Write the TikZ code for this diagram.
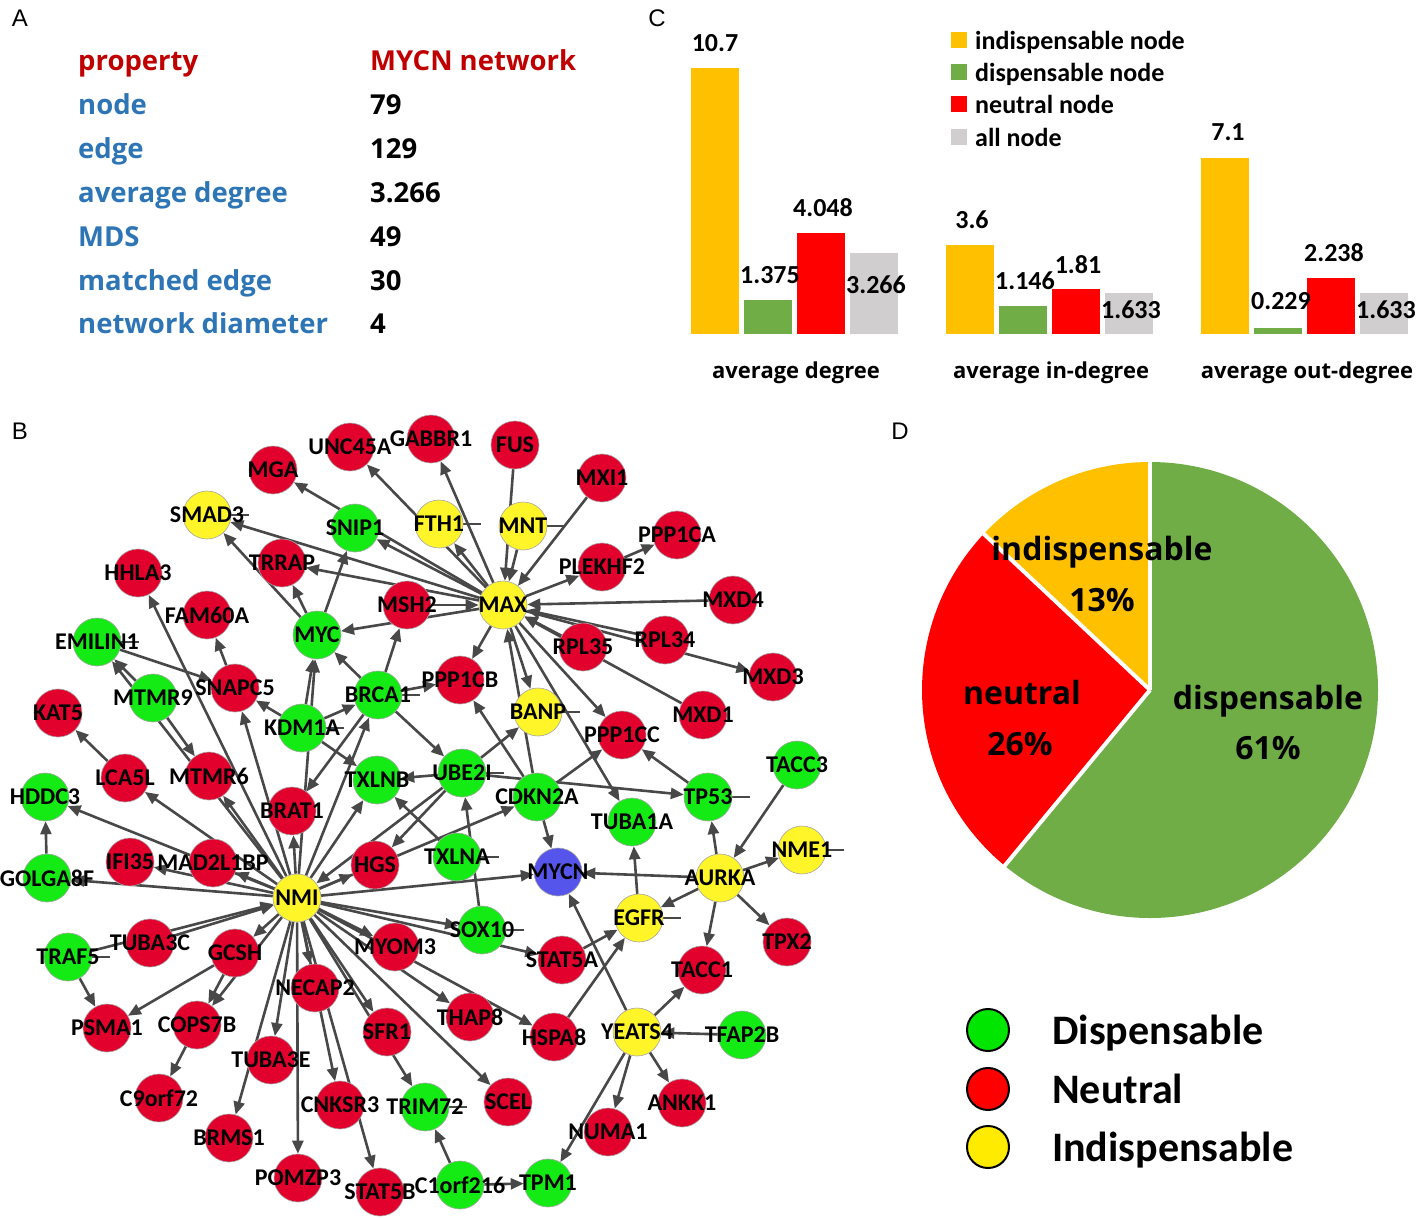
\documentclass[tikz,border=0pt]{standalone}
\usepackage{fontspec}
\setmainfont{Carlito}
\newfontfamily\osans{Open Sans}
\newfontfamily\lsans{Liberation Sans}
\usetikzlibrary{arrows.meta,backgrounds}
\definecolor{nr}{RGB}{226,0,44}
\definecolor{ng}{RGB}{20,235,20}
\definecolor{ny}{RGB}{255,245,40}
\definecolor{nb}{RGB}{85,85,235}
\definecolor{edgec}{RGB}{72,72,72}
\definecolor{cyel}{RGB}{255,192,0}
\definecolor{cgrn}{RGB}{112,173,71}
\definecolor{cred}{RGB}{255,0,0}
\definecolor{cgry}{RGB}{208,206,206}
\definecolor{ared}{RGB}{192,0,0}
\definecolor{ablu}{RGB}{46,117,182}
\definecolor{lgrn}{RGB}{0,230,0}
\definecolor{lyel}{RGB}{255,235,0}
\pgfdeclarelayer{bgfill}
\pgfdeclarelayer{fg}
\pgfsetlayers{bgfill,background,main,fg}
\begin{document}
\begin{tikzpicture}[x=1pt,y=-1pt,
  gnode/.style={circle,minimum size=48pt,inner sep=0pt,draw=black!35,line width=0.6pt},
  glab/.style={font=\bfseries\fontsize{24}{24}\selectfont,inner sep=0pt},
  edge/.style={draw=edgec,line width=2.6pt,-{Triangle[length=13pt,width=11pt]}},
  tail/.style={draw=edgec,line width=2.6pt},
  panel/.style={font=\lsans\fontsize{24}{24}\selectfont,anchor=base,inner sep=0pt},
  atxt/.style={font=\osans\bfseries\fontsize{27.5}{27.5}\selectfont,anchor=base west,inner sep=0pt},
  barval/.style={font=\bfseries\fontsize{26}{26}\selectfont,inner sep=0pt},
  legtxt/.style={font=\bfseries\fontsize{26}{26}\selectfont,anchor=base west,inner sep=0pt},
  axtxt/.style={font=\osans\bfseries\fontsize{22}{22}\selectfont,anchor=base,inner sep=0pt},
  pietxt/.style={font=\osans\bfseries\fontsize{32}{32}\selectfont,anchor=base,inner sep=0pt},
  dleg/.style={circle,minimum size=42pt,inner sep=0pt,draw=black,line width=2pt},
  dlegtxt/.style={font=\bfseries\fontsize{42}{42}\selectfont,anchor=base west,inner sep=0pt},
  slice/.style={draw=white,line width=4pt,line join=round}
]
\useasboundingbox (0,0) rectangle (1418,1218);
\begin{pgfonlayer}{bgfill}
\fill[white] (0,0) rectangle (1418,1218);
\end{pgfonlayer}

% ---------- panel letters
\node[panel] (pA) at (20,26) {A};
\node[panel] (pB) at (20,439) {B};
\node[panel] (pC) at (657,26) {C};
\node[panel] (pD) at (900,439) {D};

% ---------- panel A
\node[atxt,text=ared] (a0l) at (78,70) {property};
\node[atxt,text=ared] (a0r) at (370,70) {MYCN network};
\node[atxt,text=ablu] (a1l) at (78,114) {node};
\node[atxt] (a1r) at (370,114) {79};
\node[atxt,text=ablu] (a2l) at (78,158) {edge};
\node[atxt] (a2r) at (370,158) {129};
\node[atxt,text=ablu] (a3l) at (78,202) {average degree};
\node[atxt] (a3r) at (370,202) {3.266};
\node[atxt,text=ablu] (a4l) at (78,246) {MDS};
\node[atxt] (a4r) at (370,246) {49};
\node[atxt,text=ablu] (a5l) at (78,290) {matched edge};
\node[atxt] (a5r) at (370,290) {30};
\node[atxt,text=ablu] (a6l) at (78,333) {network diameter};
\node[atxt] (a6r) at (370,333) {4};

% ---------- panel C bars
\fill[cyel] (691,334) rectangle (739,68);
\fill[cgrn] (744,334) rectangle (792,299.8);
\fill[cred] (797,334) rectangle (845,233.4);
\fill[cgry] (850,334) rectangle (898,252.8);
\fill[cyel] (946,334) rectangle (994,244.5);
\fill[cgrn] (999,334) rectangle (1047,305.5);
\fill[cred] (1052,334) rectangle (1100,289);
\fill[cgry] (1105,334) rectangle (1153,293.4);
\fill[cyel] (1201,334) rectangle (1249,157.5);
\fill[cgrn] (1254,334) rectangle (1302,328.3);
\fill[cred] (1307,334) rectangle (1355,278.4);
\fill[cgry] (1360,334) rectangle (1408,293.4);
\node[barval] (v1) at (715,43) {10.7};
\node[barval] (v2) at (770,275) {1.375};
\node[barval] (v3) at (823,208) {4.048};
\node[barval] (v4) at (876,285) {3.266};
\node[barval] (v5) at (972,220) {3.6};
\node[barval] (v6) at (1025,281) {1.146};
\node[barval] (v7) at (1078,265) {1.81};
\node[barval] (v8) at (1131,310) {1.633};
\node[barval] (v9) at (1228,132) {7.1};
\node[barval] (v10) at (1281,301) {0.229};
\node[barval] (v11) at (1334,253) {2.238};
\node[barval] (v12) at (1386,310) {1.633};
\fill[cyel] (951,32) rectangle (967,48);
\fill[cgrn] (951,64) rectangle (967,80);
\fill[cred] (951,96) rectangle (967,112);
\fill[cgry] (951,129) rectangle (967,145);
\node[legtxt] (l1) at (975,49) {indispensable node};
\node[legtxt] (l2) at (975,81) {dispensable node};
\node[legtxt] (l3) at (975,113) {neutral node};
\node[legtxt] (l4) at (975,146) {all node};
\node[axtxt] (x1) at (796,378) {average degree};
\node[axtxt] (x2) at (1051,378) {average in-degree};
\node[axtxt] (x3) at (1307,378) {average out-degree};

% ---------- panel D pie
\fill[cgrn] (1150,690) -- ++(-90:228) arc[start angle=-90,end angle=129.6,radius=228] -- cycle;
\fill[cred] (1150,690) -- ++(129.6:228) arc[start angle=129.6,end angle=223.2,radius=228] -- cycle;
\fill[cyel] (1150,690) -- ++(223.2:228) arc[start angle=223.2,end angle=270,radius=228] -- cycle;
\draw[slice] (1150,690) -- ++(-90:230);
\draw[slice] (1150,690) -- ++(129.6:230);
\draw[slice] (1150,690) -- ++(223.2:230);
\node[pietxt] (d1) at (1102,560) {indispensable};
\node[pietxt] (d2) at (1102,611) {13\%};
\node[pietxt] (d3) at (1022,704) {neutral};
\node[pietxt] (d4) at (1020,755) {26\%};
\node[pietxt] (d5) at (1268,709) {dispensable};
\node[pietxt] (d6) at (1268,759) {61\%};
\node[dleg,fill=lgrn] (g1) at (988,1030) {};
\node[dleg,fill=cred] (g2) at (988,1089) {};
\node[dleg,fill=lyel] (g3) at (988,1147) {};
\node[dlegtxt] (t1) at (1052,1044) {Dispensable};
\node[dlegtxt] (t2) at (1052,1103) {Neutral};
\node[dlegtxt] (t3) at (1052,1161) {Indispensable};

% ---------- panel B network nodes
\foreach \n/\x/\y/\c in {
MGA/273/470/nr, UNC45A/350/447/nr, GABBR1/431/439/nr, FUS/515/445/nr, MXI1/602/478/nr,
PPP1CA/677/535/nr, PLEKHF2/602/567/nr, MXD4/733/600/nr, RPL34/665/640/nr, RPL35/583/647/nr,
MXD3/773/677/nr, MXD1/703/715/nr, PPP1CC/622/735/nr, TRRAP/282/563/nr, HHLA3/138/573/nr,
FAM60A/207/615/nr, MSH2/407/605/nr, SNAPC5/235/688/nr, PPP1CB/460/680/nr, KAT5/58/713/nr,
LCA5L/125/778/nr, MTMR6/209/776/nr, BRAT1/292/811/nr, IFI35/130/862/nr, MAD2L1BP/213/863/nr,
HGS/375/865/nr, TUBA3C/150/943/nr, GCSH/235/953/nr, PSMA1/107/1028/nr, COPS7B/197/1025/nr,
C9orf72/159/1098/nr, TUBA3E/271/1060/nr, BRMS1/229/1138/nr, POMZP3/298/1178/nr, NECAP2/315/988/nr,
MYOM3/395/947/nr, SFR1/387/1032/nr, THAP8/470/1017/nr, HSPA8/554/1037/nr, STAT5A/562/960/nr,
CNKSR3/340/1105/nr, SCEL/508/1102/nr, STAT5B/380/1192/nr, NUMA1/608/1132/nr, TACC1/702/970/nr,
TPX2/787/942/nr, ANKK1/682/1103/nr,
SNIP1/355/528/ng, MYC/317/635/ng, EMILIN1/97/642/ng, MTMR9/153/698/ng, KDM1A/302/728/ng,
BRCA1/378/695/ng, TXLNB/377/780/ng, UBE2I/462/773/ng, CDKN2A/537/797/ng, TXLNA/457/857/ng,
SOX10/482/930/ng, HDDC3/45/797/ng, GOLGA8F/47/878/ng, TRAF5/68/957/ng, TRIM72/425/1107/ng,
C1orf216/460/1185/ng, TPM1/548/1183/ng, TUBA1A/632/822/ng, TP53/708/797/ng, TACC3/797/765/ng,
TFAP2B/742/1035/ng,
SMAD3/207/515/ny, FTH1/439/524/ny, MNT/523/526/ny, MAX/503/605/ny, BANP/538/712/ny,
NMI/297/898/ny, AURKA/720/878/ny, NME1/802/850/ny, EGFR/639/918/ny, YEATS4/637/1032/ny,
MYCN/558/872/nb}
  {\node[gnode,fill=\c] (\n) at (\x,\y) {};}

% ---------- edges
\begin{pgfonlayer}{background}
\foreach \a/\b in {
MAX/SMAD3, MYC/SMAD3, MAX/MGA, MAX/TRRAP, MYC/TRRAP, MYC/SNIP1, MAX/SNIP1, MAX/UNC45A,
MAX/GABBR1, MAX/FTH1, FUS/MAX, MNT/MAX, MXI1/MAX, MAX/PLEKHF2, PLEKHF2/PPP1CA, MXD4/MAX,
RPL34/MAX, MAX/MXD3, MXD1/MAX, RPL35/MAX, MSH2/MAX, MAX/MYC, MAX/PPP1CB, MAX/BANP,
MAX/PPP1CC, MAX/TUBA1A, CDKN2A/MAX, BRCA1/MSH2, KDM1A/BRCA1, BRCA1/PPP1CB, BRCA1/UBE2I,
BRCA1/MYC, BRCA1/BRAT1, NMI/BRCA1, NMI/MYC, KDM1A/MYC, KDM1A/SNAPC5, KDM1A/TXLNB,
SNAPC5/FAM60A, NMI/SNAPC5, EMILIN1/SNAPC5, NMI/HHLA3, NMI/EMILIN1, MTMR9/EMILIN1,
MTMR9/MTMR6, NMI/MTMR6, LCA5L/KAT5, NMI/LCA5L, NMI/HDDC3, GOLGA8F/HDDC3, NMI/GOLGA8F,
NMI/IFI35, NMI/MAD2L1BP, TRAF5/NMI, TUBA3C/NMI, TRAF5/PSMA1, GCSH/PSMA1, GCSH/COPS7B,
NMI/COPS7B, NMI/GCSH, COPS7B/C9orf72, NMI/TUBA3E, NMI/BRMS1, NMI/POMZP3, NMI/NECAP2,
NMI/CNKSR3, NMI/STAT5B, NMI/SFR1, NMI/TRIM72, C1orf216/TRIM72, NMI/SCEL, NMI/MYOM3,
NMI/THAP8, NMI/HSPA8, HSPA8/EGFR, STAT5A/EGFR, NMI/STAT5A, NMI/SOX10, SOX10/UBE2I,
TXLNA/TXLNB, UBE2I/TXLNB, UBE2I/HGS, UBE2I/NMI, NMI/TXLNB, NMI/CDKN2A, NMI/MYCN, NMI/HGS,
NMI/BRAT1, UBE2I/BANP, CDKN2A/PPP1CB, CDKN2A/PPP1CC, CDKN2A/MYCN, UBE2I/TP53, AURKA/MYCN,
AURKA/TP53, TACC3/AURKA, AURKA/NME1, AURKA/EGFR, AURKA/TACC1, AURKA/TPX2, EGFR/TUBA1A,
TP53/PPP1CC, YEATS4/MYCN, YEATS4/TACC1, TFAP2B/YEATS4, YEATS4/ANKK1, YEATS4/NUMA1,
YEATS4/TPM1, C1orf216/TPM1}
  {\draw[edge] (\a) -- (\b);}
\foreach \n in {SMAD3,FTH1,MNT,EMILIN1,KDM1A,BRCA1,UBE2I,TXLNA,SOX10,BANP,TP53,NME1,EGFR,TRIM72,TRAF5}
  {\draw[tail] (\n.east) -- ++(18,0);}
\end{pgfonlayer}

% ---------- labels
\begin{pgfonlayer}{fg}
\foreach \n in {MGA,UNC45A,GABBR1,FUS,MXI1,PPP1CA,PLEKHF2,MXD4,RPL34,RPL35,MXD3,MXD1,PPP1CC,
TRRAP,HHLA3,FAM60A,MSH2,SNAPC5,PPP1CB,KAT5,LCA5L,MTMR6,BRAT1,IFI35,MAD2L1BP,HGS,TUBA3C,GCSH,
PSMA1,COPS7B,C9orf72,TUBA3E,BRMS1,POMZP3,NECAP2,MYOM3,SFR1,THAP8,HSPA8,STAT5A,CNKSR3,SCEL,
STAT5B,NUMA1,TACC1,TPX2,ANKK1,SNIP1,MYC,EMILIN1,MTMR9,KDM1A,BRCA1,TXLNB,UBE2I,CDKN2A,TXLNA,
SOX10,HDDC3,GOLGA8F,TRAF5,TRIM72,C1orf216,TPM1,TUBA1A,TP53,TACC3,TFAP2B,SMAD3,FTH1,MNT,MAX,
BANP,NMI,AURKA,NME1,EGFR,YEATS4,MYCN}
  {\node[glab] (\n-l) at (\n) {\n};}
\end{pgfonlayer}
\end{tikzpicture}
\end{document}
